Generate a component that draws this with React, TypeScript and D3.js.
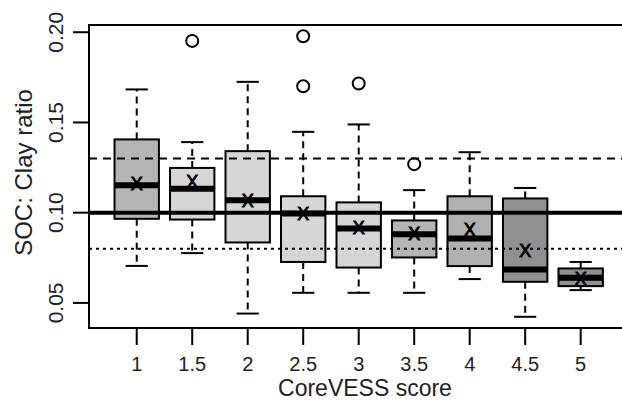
import * as d3 from "d3";

const scores = ["1", "1.5", "2", "2.5", "3", "3.5", "4", "4.5", "5"];
const lowerWhisker = [0.0705, 0.0776, 0.0441, 0.0556, 0.0556, 0.0556, 0.0632, 0.0423, 0.0571];
const q1 = [0.0966, 0.0962, 0.0835, 0.0727, 0.0696, 0.0752, 0.0704, 0.0617, 0.0593];
const medians = [0.1152, 0.1132, 0.1069, 0.0996, 0.0912, 0.0881, 0.0857, 0.0685, 0.0639];
const q3 = [0.1406, 0.1248, 0.1341, 0.1091, 0.1057, 0.0957, 0.1091, 0.1079, 0.0691];
const upperWhisker = [0.1683, 0.1391, 0.1725, 0.1448, 0.1489, 0.1125, 0.1335, 0.1137, 0.0727];
const means = [0.1162, 0.1175, 0.1066, 0.0998, 0.0918, 0.0885, 0.0909, 0.0792, 0.0635];
const outliers: number[][] = [[], [0.1952], [], [0.1978, 0.1701], [0.1716], [0.1269], [], [], []];
const yTicks = [0.05, 0.1, 0.15, 0.2];
const refSolid = 0.1;
const refDashed = 0.13;
const refDotted = 0.08;

// grey shade per box
const shade = ["#b4b4b4", "#d6d6d6", "#d6d6d6", "#d6d6d6", "#d6d6d6", "#b4b4b4", "#b0b0b0", "#909090", "#909090"];

const width = 622;
const height = 403;
const font = "'Liberation Sans', Arial, Helvetica, sans-serif";

export default function App() {
  const x = d3.scaleLinear().domain([0.14, 9.86]).range([89, 628.4]);
  const y = d3.scaleLinear().domain([0.0361, 0.204]).range([328, 25]);
  const boxW = x(1.8) - x(1);
  const capW = boxW / 2;
  const [left, right] = x.range();
  const [bottom, top] = y.range();

  return (
    <svg
      width={width}
      height={height}
      style={{ position: "absolute", left: 0, top: 0, background: "#fff" }}
      fontFamily={font}
    >
      {scores.map((s, i) => {
        const cx = x(i + 1);
        return (
          <g key={s}>
            <line x1={cx} x2={cx} y1={y(q3[i])} y2={y(upperWhisker[i])} stroke="#000" strokeWidth={2} strokeDasharray="7,5" />
            <line x1={cx} x2={cx} y1={y(q1[i])} y2={y(lowerWhisker[i])} stroke="#000" strokeWidth={2} strokeDasharray="7,5" />
            <line x1={cx - capW / 2} x2={cx + capW / 2} y1={y(upperWhisker[i])} y2={y(upperWhisker[i])} stroke="#000" strokeWidth={2} />
            <line x1={cx - capW / 2} x2={cx + capW / 2} y1={y(lowerWhisker[i])} y2={y(lowerWhisker[i])} stroke="#000" strokeWidth={2} />
            <rect
              x={cx - boxW / 2}
              y={y(q3[i])}
              width={boxW}
              height={y(q1[i]) - y(q3[i])}
              fill={shade[i]}
              stroke="#000"
              strokeWidth={2}
            />
            <line x1={cx - boxW / 2} x2={cx + boxW / 2} y1={y(medians[i])} y2={y(medians[i])} stroke="#000" strokeWidth={6} />
            {outliers[i].map((o, j) => (
              <circle key={j} cx={cx} cy={y(o)} r={6} fill="none" stroke="#000" strokeWidth={2} />
            ))}
          </g>
        );
      })}

      {/* reference lines */}
      <line x1={left} x2={right} y1={y(refSolid)} y2={y(refSolid)} stroke="#000" strokeWidth={4} />
      <line x1={left} x2={right} y1={y(refDashed)} y2={y(refDashed)} stroke="#000" strokeWidth={2} strokeDasharray="8,6" />
      <line x1={left} x2={right} y1={y(refDotted)} y2={y(refDotted)} stroke="#000" strokeWidth={2} strokeDasharray="3,4" />

      {/* means */}
      {means.map((m, i) => (
        <text
          key={i}
          x={x(i + 1)}
          y={y(m)}
          dy="0.36em"
          textAnchor="middle"
          fontSize={18}
          fill="#000"
          stroke="#000"
          strokeWidth={0.9}
        >
          X
        </text>
      ))}

      {/* frame */}
      <rect x={left} y={top} width={right - left} height={bottom - top} fill="none" stroke="#000" strokeWidth={2} />

      {/* y axis */}
      {yTicks.map((t) => (
        <g key={t}>
          <line x1={left - 16} x2={left} y1={y(t)} y2={y(t)} stroke="#000" strokeWidth={2} />
          <text transform={`translate(63,${y(t)}) rotate(-90)`} textAnchor="middle" fontSize={21} fill="#222">
            {d3.format(".2f")(t)}
          </text>
        </g>
      ))}

      {/* x axis */}
      {scores.map((s, i) => (
        <g key={s}>
          <line x1={x(i + 1)} x2={x(i + 1)} y1={bottom} y2={bottom + 17} stroke="#000" strokeWidth={2} />
          <text x={x(i + 1)} y={371} textAnchor="middle" fontSize={20} fill="#222">
            {s}
          </text>
        </g>
      ))}

      <text x={365} y={396} textAnchor="middle" fontSize={23} fill="#222">
        CoreVESS score
      </text>
      <text transform="translate(32,172.5) rotate(-90)" textAnchor="middle" fontSize={24} fill="#222">
        SOC: Clay ratio
      </text>
    </svg>
  );
}
